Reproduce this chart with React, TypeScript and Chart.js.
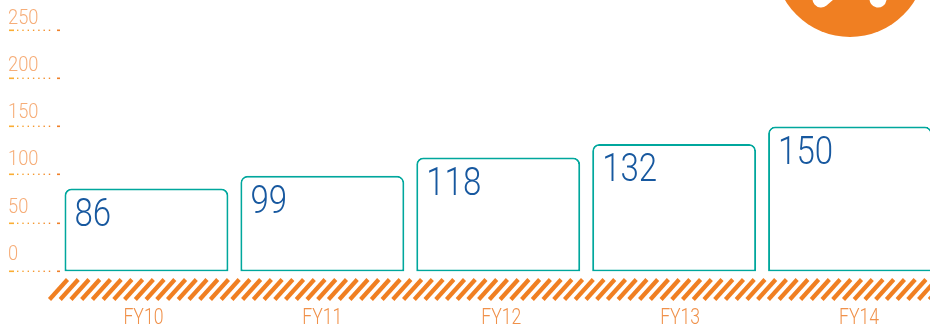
import React, { useEffect, useRef } from "react";
import { Chart, registerables } from "chart.js";

Chart.register(...registerables);

const categories = ["FY10", "FY11", "FY12", "FY13", "FY14"];
const values = [86, 99, 118, 132, 150];
const yTicks = [0, 50, 100, 150, 200, 250];

const ORANGE = "#f07f22";
const TEAL = "#00a79d";
const BLUE = "#17589f";
const FACE = "Roboto, sans-serif";

// Writes text squeezed horizontally, since no condensed face is available.
function squeezedText(ctx: any, text: string, x: number, y: number, sx: number, align: string) {
  ctx.save();
  ctx.translate(x, y);
  ctx.scale(sx, 1);
  ctx.textAlign = align;
  ctx.textBaseline = "alphabetic";
  ctx.fillText(text, 0, 0);
  ctx.restore();
}

// Value axis: dotted tick rules with solid end caps and a label above each.
const valueAxis = {
  id: "valueAxis",
  afterDraw(chart: any) {
    const { ctx, scales } = chart;
    const y = scales.y;
    ctx.save();
    const grad = ctx.createLinearGradient(9, 0, 60, 0);
    grad.addColorStop(0, "#fbb034");
    grad.addColorStop(1, "#ef7f2a");
    y.ticks.forEach((t: any) => {
      const py = Math.floor(y.getPixelForValue(t.value));
      ctx.fillStyle = grad;
      ctx.fillRect(9, py - 0.5, 5, 1.6);
      for (let x = 17; x < 54; x += 5.3) ctx.fillRect(x, py - 0.4, 1.4, 1.4);
      ctx.fillRect(57, py - 0.5, 3, 1.6);
      ctx.fillStyle = "#f6ad78";
      ctx.font = `300 21px ${FACE}`;
      // Labels sit a little closer to their rule towards the top of the axis.
      squeezedText(ctx, String(t.value), 8, py - 11.5 + t.value / 50, 0.87, "left");
    });
    ctx.restore();
  },
};

// Category names under the hatched band, spread slightly wider than the bars.
const categoryAxis = {
  id: "categoryAxis",
  afterDraw(chart: any) {
    const { ctx, scales } = chart;
    const x = scales.x;
    ctx.save();
    ctx.fillStyle = "#f0914a";
    ctx.font = `300 22px ${FACE}`;
    categories.forEach((label, i) => {
      squeezedText(ctx, label, x.getPixelForTick(i) - 3 + i * 3, 324, 0.8, "center");
    });
    ctx.restore();
  },
};

// Hatched ground band under the bars.
const hatchBand = {
  id: "hatchBand",
  afterDraw(chart: any) {
    const { ctx } = chart;
    ctx.save();
    ctx.strokeStyle = ORANGE;
    ctx.lineWidth = 4.2;
    ctx.lineCap = "butt";
    for (let x = 49.5; x < 945; x += 10.73) {
      ctx.beginPath();
      ctx.moveTo(x, 299.5);
      ctx.lineTo(x + 18, 279.5);
      ctx.stroke();
    }
    ctx.restore();
  },
};

// Value written inside the top-left corner of every bar.
const barValues = {
  id: "barValues",
  afterDatasetsDraw(chart: any) {
    const { ctx } = chart;
    const meta = chart.getDatasetMeta(0);
    ctx.save();
    ctx.fillStyle = BLUE;
    ctx.font = `300 38px ${FACE}`;
    meta.data.forEach((bar: any, i: number) => {
      squeezedText(ctx, String(values[i]), bar.x - bar.width / 2 + 10, bar.y + 37.5, 0.87, "left");
    });
    ctx.restore();
  },
};

// Orange badge cut off by the top edge, with its two white notches.
const badge = {
  id: "badge",
  afterDraw(chart: any) {
    const { ctx } = chart;
    ctx.save();
    ctx.fillStyle = ORANGE;
    ctx.beginPath();
    ctx.arc(850, -38.6, 75.6, 0, Math.PI * 2);
    ctx.fill();
    ctx.strokeStyle = "#fff";
    ctx.lineWidth = 17;
    ctx.lineCap = "round";
    ctx.beginPath();
    ctx.moveTo(821, -1);
    ctx.lineTo(835, -13);
    ctx.moveTo(878, -1);
    ctx.lineTo(880, -13);
    ctx.stroke();
    ctx.restore();
  },
};

export default function App() {
  const ref = useRef<HTMLCanvasElement>(null);

  useEffect(() => {
    const chart = new Chart(ref.current!, {
      type: "bar",
      data: {
        labels: categories,
        datasets: [
          {
            data: values,
            backgroundColor: "#ffffff",
            borderColor: TEAL,
            borderWidth: 2,
            borderSkipped: false,
            borderRadius: { topLeft: 7, topRight: 7, bottomLeft: 0, bottomRight: 0 },
            barPercentage: 0.932,
            categoryPercentage: 1,
          },
        ],
      },
      options: {
        responsive: false,
        animation: false,
        layout: { padding: { left: 0, right: 0, top: 30, bottom: 0 } },
        plugins: { legend: { display: false }, tooltip: { enabled: false } },
        scales: {
          x: {
            grid: { display: false },
            border: { display: false },
            ticks: { display: false },
            afterFit: (s: any) => {
              s.height = 59.5;
            },
          },
          y: {
            min: 0,
            max: 250,
            grid: { display: false },
            border: { display: false },
            ticks: { display: false },
            afterFit: (s: any) => {
              s.width = 58.5;
            },
            afterBuildTicks: (s: any) => {
              s.ticks = yTicks.map((value) => ({ value }));
            },
          },
        },
      },
      plugins: [valueAxis, categoryAxis, hatchBand, barValues, badge],
    });
    return () => chart.destroy();
  }, []);

  return (
    <div style={{ position: "fixed", left: 0, top: 0, width: 930, height: 331, overflow: "hidden", background: "#fff" }}>
      <canvas ref={ref} width={938.5} height={331} style={{ display: "block" }} />
    </div>
  );
}
